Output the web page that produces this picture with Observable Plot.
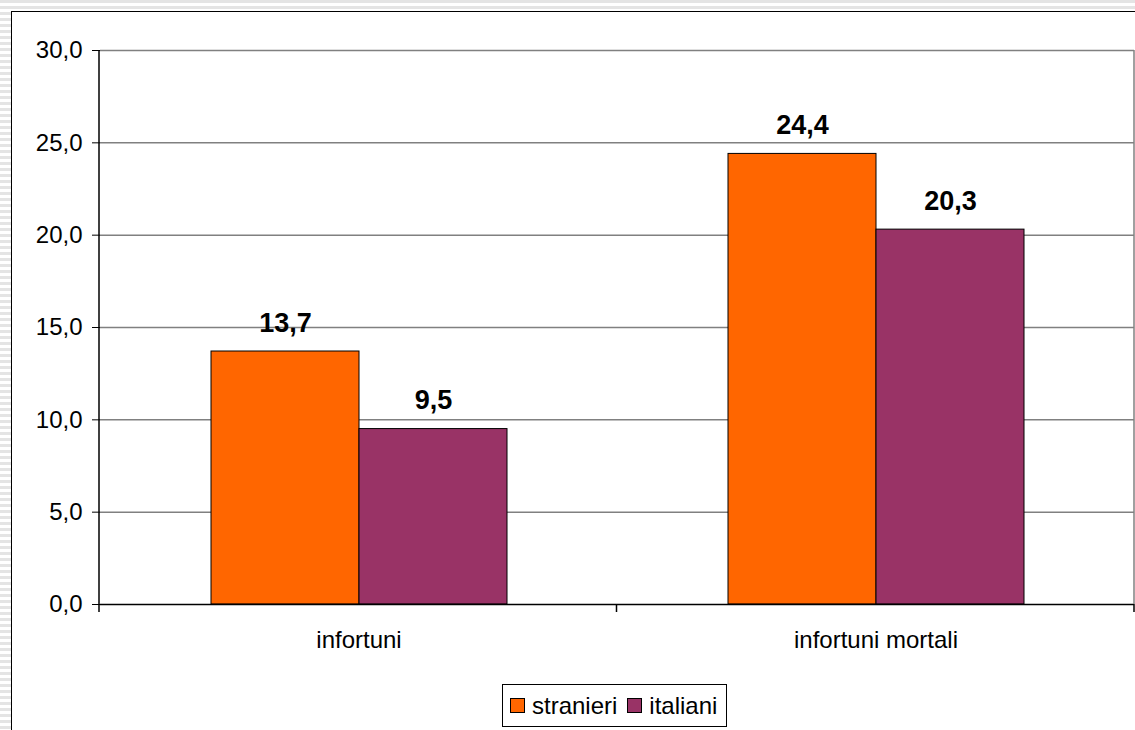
<!DOCTYPE html>
<html>
<head>
<meta charset="utf-8">
<script src="https://cdn.jsdelivr.net/npm/d3@7"></script>
<script src="https://cdn.jsdelivr.net/npm/@observablehq/plot@0.6"></script>
<style>
  html, body { margin: 0; padding: 0; }
  body { width: 1135px; height: 730px; overflow: hidden; position: relative;
         background: repeating-linear-gradient(to bottom, #e4e4e4 0px, #e4e4e4 3px, #ffffff 3px, #ffffff 6px);
         font-family: 'Liberation Sans', Arial, sans-serif; }
  #panel { position: absolute; left: 11px; top: 11px; right: 0; bottom: 0; background: #fff;
           border-left: 1px solid #000; border-top: 1px solid #000; }
  #chart { position: absolute; left: 0; top: 0; }
  #legend { position: absolute; left: 490px; top: 672px; border: 1px solid #000; background: #fff;
            padding: 5px 9px 5px 7px; font-size: 24px; line-height: 31px; display: flex; align-items: center; white-space: nowrap; }
  .sw { display: inline-block; width: 13px; height: 13px; border: 1px solid #000; margin-right: 7px; }
  .item { display: flex; align-items: center; margin-right: 10px; }
  .item:last-child { margin-right: 0; }
</style>
</head>
<body>
<div id="panel">
  <div id="chart"></div>
  <div id="legend"></div>
</div>
<script>
const categories = ["infortuni", "infortuni mortali"];
const series = ["stranieri", "italiani"];
const stranieri = [13.7, 24.4];
const italiani = [9.5, 20.3];
const yTicks = [0, 5, 10, 15, 20, 25, 30];
const colors = ["#FF6600", "#993366"];

const fmt = v => v.toFixed(1).replace(".", ",");

const data = categories.flatMap((c, i) => [
  {cat: c, s: series[0], v: stranieri[i]},
  {cat: c, s: series[1], v: italiani[i]}
]);

const W = 1123, H = 660, mL = 87, mR = 1, mT = 38, mB = 68;

const plot = Plot.plot({
  width: W, height: H,
  marginLeft: mL, marginRight: mR, marginTop: mT, marginBottom: mB,
  style: {fontFamily: "'Liberation Sans', Arial, sans-serif", fontSize: "24px", color: "#000", background: "transparent", overflow: "visible"},
  fx: {domain: categories, padding: 0, label: null, axis: "bottom", tickSize: 0, tickPadding: 26},
  x: {domain: series, paddingInner: 0, paddingOuter: 0.742, axis: null},
  y: {domain: [0, 30], ticks: yTicks, tickFormat: fmt, label: null, tickSize: 8, tickPadding: 10},
  color: {domain: series, range: colors},
  marks: [
    Plot.ruleY(yTicks.filter(t => t > 0), {stroke: "#808080", strokeWidth: 1.5}),
    Plot.barY(data, {fx: "cat", x: "s", y: "v", fill: "s", stroke: "#000", strokeWidth: 1}),
    Plot.ruleY([0], {stroke: "#000", strokeWidth: 1.5}),
    Plot.text(data, {fx: "cat", x: "s", y: "v", text: d => fmt(d.v), lineAnchor: "bottom", dy: -20,
                     fontWeight: "bold", fontSize: 27, fill: "#000"})
  ]
});
document.getElementById("chart").appendChild(plot);

// axis decorations derived from scales
const fxs = plot.scale("fx");
const ys = plot.scale("y");
const [x0, x1] = fxs.range;
const yTop = ys.range[1], yBot = ys.range[0];
const svg = d3.select(plot);
const g = svg.append("g");
g.append("line").attr("x1", x1).attr("x2", x1).attr("y1", yTop).attr("y2", yBot)
  .attr("stroke", "#808080").attr("stroke-width", 1.5);
g.append("line").attr("x1", x0).attr("x2", x0).attr("y1", yTop).attr("y2", yBot + 8)
  .attr("stroke", "#000").attr("stroke-width", 1.5);
const step = (x1 - x0) / categories.length;
d3.range(1, categories.length + 1).forEach(i => {
  const xx = x0 + i * step;
  g.append("line").attr("x1", xx).attr("x2", xx).attr("y1", yBot).attr("y2", yBot + 8)
    .attr("stroke", "#000").attr("stroke-width", 1.5);
});

// legend
const legend = d3.select("#legend");
series.forEach((s, i) => {
  const it = legend.append("span").attr("class", "item");
  it.append("span").attr("class", "sw").style("background", colors[i]);
  it.append("span").text(s);
});
</script>
</body>
</html>
